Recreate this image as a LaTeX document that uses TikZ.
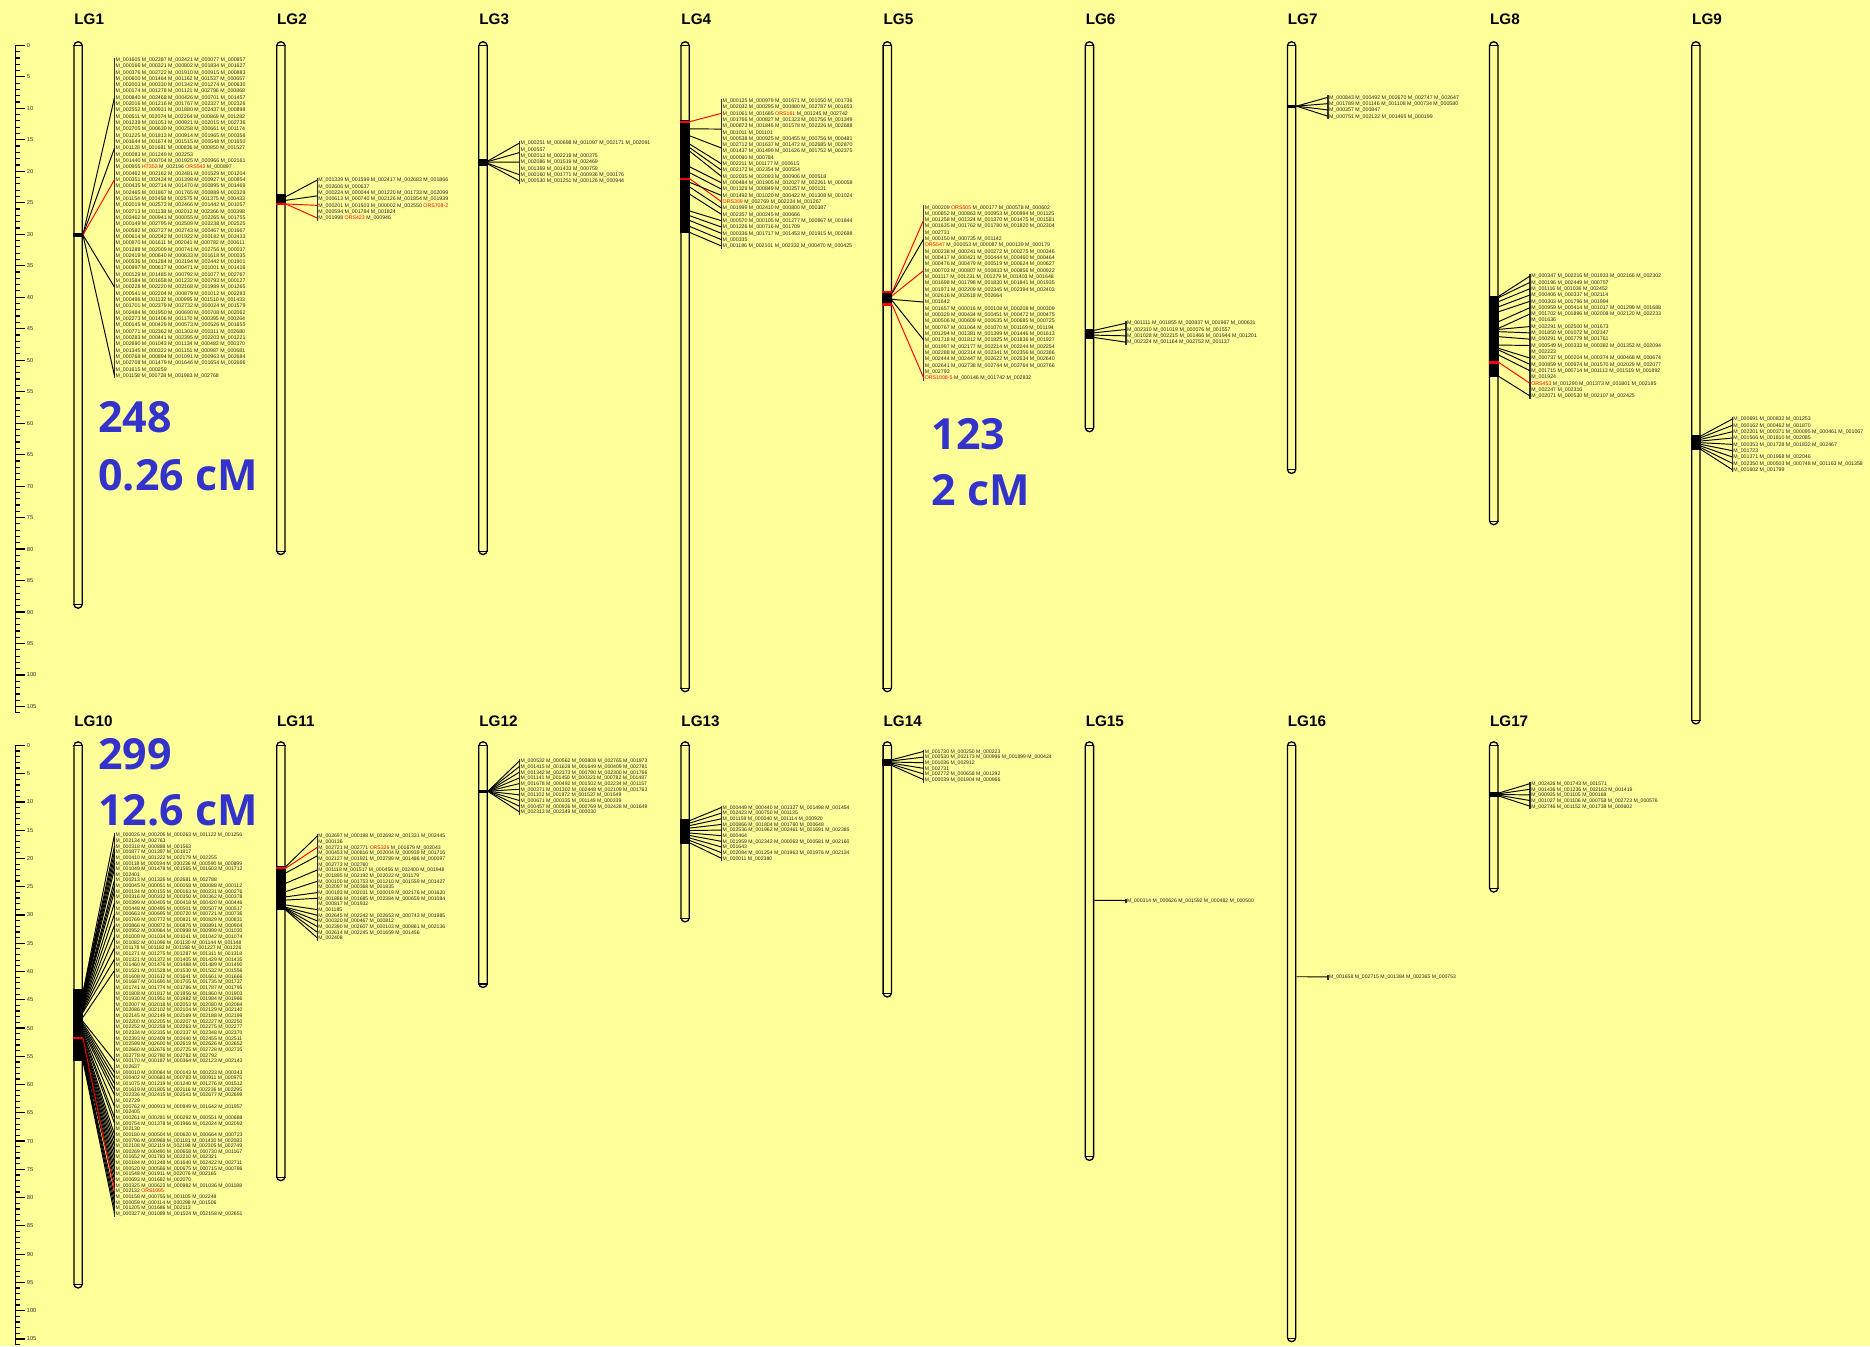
\documentclass[tikz,border=0pt]{standalone}
\usepackage{fontspec}
\setmainfont{Liberation Sans}
\newfontfamily\numfont{Open Sans}
\usetikzlibrary{calc,fit}
\definecolor{bgy}{RGB}{255,255,153}
\definecolor{numblue}{RGB}{51,51,204}
\definecolor{mkred}{RGB}{255,0,0}
\newcommand\R[1]{\textcolor{mkred}{#1}}
\newcommand\LS{5.3}
\newcommand\OFF{1.6}
\tikzset{
  bar/.style={draw=black, line width=0.55pt, rounded corners=1.75pt, inner sep=0pt},
  capln/.style={line width=0.45pt},
  conn/.style={line width=0.4pt, black},
  rconn/.style={line width=0.4pt, mkred},
  brk/.style={line width=0.6pt, black!80},
  mkT/.style={anchor=north west, inner sep=0pt, outer sep=0pt, align=left, text=black!85, font=\fontsize{2.2pt}{2.65pt}\selectfont},
  mkB/.style={anchor=north west, inner sep=0pt, outer sep=0pt, align=left, text=black!85, font=\fontsize{2.15pt}{2.37pt}\selectfont},
  lglab/.style={anchor=west, inner sep=0pt, font=\fontsize{6.4pt}{7pt}\selectfont\bfseries},
  bignum/.style={anchor=base west, inner sep=0pt, text=numblue, font=\numfont\fontsize{18pt}{20pt}\selectfont\bfseries},
  rlab/.style={anchor=west, inner sep=0pt, xshift=0.5pt, font=\fontsize{2.4pt}{3pt}\selectfont, text=black!80},
}
\newcommand\chrom[4]{%
  \node[bar, fit={(#2-3.5,#3) (#2+3.5,#4)}] (#1) {};
  \draw[capln] ($(#1.north west)+(0,3.5)$) -- ($(#1.north east)+(0,3.5)$);
  \draw[capln] ($(#1.south west)+(0,-3.5)$) -- ($(#1.south east)+(0,-3.5)$);
}
\newcommand\band[3]{\fill (#1.west |- 0,#2) rectangle (#1.east |- 0,#3);}
\newcommand\redm[2]{\draw[mkred, line width=0.9pt] (#1.west |- 0,#2) -- (#1.east |- 0,#2);}
\newcommand\cn[5][conn]{\draw[#1] (#2.east |- 0,#3) -- ($(#4.north west)+(-1,{\OFF+\LS*(#5-1)})$);}
\newcommand\brk[1]{\draw[brk] ($(#1.north west)+(-1,0)$) -- ($(#1.south west)+(-1,0)$);}
\newcommand\ruler[4]{%
  \draw[line width=0.5pt] (13,#2) -- (13,{#2+#3*#4});
  \foreach \i in {0,...,#4}{
    \pgfmathsetmacro\yy{#2+#3*\i}
    \pgfmathtruncatemacro\mm{mod(\i,5)}
    \ifnum\mm=0
      \draw[line width=0.5pt] (13,\yy) -- (21,\yy) node[rlab] (#1\i) {\i};
    \else
      \draw[line width=0.5pt] (13,\yy) -- (17,\yy);
    \fi
  }}
\begin{document}
\catcode`\_=12
\begin{tikzpicture}[x=0.5pt,y=-0.5pt]
\fill[bgy] (0,0) rectangle (1568,1129);
\useasboundingbox (0,0) rectangle (1568,1129);

% rulers
\ruler{rt}{38}{5.28}{106}
\ruler{rb}{625}{4.74}{106}

% labels
\node[lglab] (l1) at (62,16) {LG1};
\node[lglab] (l2) at (232,16) {LG2};
\node[lglab] (l3) at (401.5,16) {LG3};
\node[lglab] (l4) at (571,16) {LG4};
\node[lglab] (l5) at (740.5,16) {LG5};
\node[lglab] (l6) at (910,16) {LG6};
\node[lglab] (l7) at (1079.5,16) {LG7};
\node[lglab] (l8) at (1249,16) {LG8};
\node[lglab] (l9) at (1418.5,16) {LG9};
\node[lglab] (l10) at (62,605) {LG10};
\node[lglab] (l11) at (232,605) {LG11};
\node[lglab] (l12) at (401.5,605) {LG12};
\node[lglab] (l13) at (571,605) {LG13};
\node[lglab] (l14) at (740.5,605) {LG14};
\node[lglab] (l15) at (910,605) {LG15};
\node[lglab] (l16) at (1079.5,605) {LG16};
\node[lglab] (l17) at (1249,605) {LG17};

% chromosomes
\chrom{lg1}{65.5}{35}{510}
\chrom{lg2}{235.5}{35}{465}
\chrom{lg3}{405}{35}{465}
\chrom{lg4}{574.5}{35}{580}
\chrom{lg5}{744}{35}{580}
\chrom{lg6}{913.5}{35}{362}
\chrom{lg7}{1083}{35}{397}
\chrom{lg8}{1252.5}{35}{440}
\chrom{lg9}{1422}{35}{607}
\chrom{lg10}{65.5}{622}{1080}
\chrom{lg11}{235.5}{622}{990}
\chrom{lg12}{405}{622}{828}
\chrom{lg13}{574.5}{622}{773}
\chrom{lg14}{744}{622}{836}
\chrom{lg15}{913.5}{622}{973}
\chrom{lg16}{1083}{622}{1125}
\chrom{lg17}{1252.5}{622}{748}

% bands
\band{lg1}{195.5}{199}
\band{lg2}{163}{170}\redm{lg2}{171}
\band{lg3}{133}{139}
\band{lg4}{101}{195.5}\redm{lg4}{102}\redm{lg4}{150}
\band{lg5}{244.6}{255.7}\redm{lg5}{245}\redm{lg5}{255.3}
\band{lg6}{276}{284}
\band{lg7}{88}{90.5}
\band{lg8}{248}{316}\redm{lg8}{304}
\band{lg9}{365}{377}
\band{lg10}{829}{890}\redm{lg10}{870.5}
\band{lg11}{726}{763}\redm{lg11}{728}
\band{lg12}{662}{665}
\band{lg13}{687}{708}
\band{lg14}{636}{642}
\band{lg17}{664}{668}

% big numbers
\node[bignum] (n1) at (82,363) {248};
\node[bignum] (c1) at (82,411) {0.26 cM};
\node[bignum] (n5) at (781,377) {123};
\node[bignum] (c5) at (781,424) {2 cM};
\node[bignum] (n10) at (82,645) {299};
\node[bignum] (c10) at (82,692) {12.6 cM};

% ---------- top row text
\node[mkT] (t1) at (97,48.4) {M_001605 M_002387 M_002421 M_000077 M_000857\\
M_000166 M_000321 M_000802 M_001834 M_001627\\
M_000376 M_002722 M_001910 M_000915 M_000883\\
M_000600 M_001464 M_001162 M_001537 M_000657\\
M_002003 M_000330 M_001342 M_001274 M_000630\\
M_000174 M_001278 M_001121 M_002796 M_000868\\
M_000840 M_002468 M_000426 M_000701 M_001457\\
M_002016 M_001216 M_001767 M_002327 M_002326\\
M_002552 M_000931 M_001880 M_002437 M_000898\\
M_000511 M_002074 M_002264 M_000869 M_001282\\
M_001239 M_001051 M_000921 M_002015 M_002736\\
M_002705 M_000639 M_000258 M_000661 M_001174\\
M_001225 M_001813 M_000914 M_001965 M_000356\\
M_001644 M_001674 M_001515 M_000548 M_001650\\
M_001128 M_001681 M_000836 M_000850 M_001527\\
M_000083 M_001249 M_002253\\
M_001440 M_000704 M_001925 M_000966 M_002161\\
M_000955 \R{HT353} M_002196 \R{ORS543} M_000897\\
M_000462 M_002162 M_002481 M_001529 M_001204\\
M_000351 M_002434 M_001398 M_000927 M_000854\\
M_000435 M_002714 M_001470 M_000895 M_001469\\
M_002465 M_001867 M_001765 M_000889 M_002329\\
M_001154 M_000458 M_002575 M_001375 M_000433\\
M_002019 M_002573 M_002466 M_001442 M_001057\\
M_002713 M_001138 M_002012 M_002366 M_000398\\
M_002462 M_000941 M_000055 M_002265 M_001755\\
M_000149 M_002795 M_002509 M_002238 M_002525\\
M_000582 M_002727 M_002743 M_000467 M_001667\\
M_000614 M_002042 M_001922 M_000182 M_002433\\
M_000970 M_001611 M_002041 M_000782 M_000611\\
M_001288 M_002009 M_000741 M_002756 M_000037\\
M_002419 M_000640 M_000633 M_001618 M_000035\\
M_000536 M_001284 M_002194 M_002442 M_001901\\
M_000997 M_000617 M_000471 M_001001 M_001416\\
M_000129 M_001485 M_000792 M_001077 M_002767\\
M_001584 M_001658 M_001232 M_000793 M_000127\\
M_000228 M_002220 M_002168 M_001989 M_001265\\
M_000541 M_002204 M_000879 M_001012 M_002283\\
M_000496 M_001132 M_000995 M_001510 M_001433\\
M_001701 M_002379 M_002732 M_000024 M_001579\\
M_002484 M_001950 M_000690 M_000708 M_002062\\
M_002273 M_001406 M_001170 M_000395 M_000264\\
M_000145 M_000429 M_000573 M_000526 M_001655\\
M_000771 M_002362 M_001303 M_000311 M_002680\\
M_000283 M_000441 M_002395 M_002203 M_001221\\
M_002690 M_001043 M_001134 M_000483 M_000370\\
M_001345 M_000322 M_001151 M_000987 M_000681\\
M_000768 M_000894 M_001091 M_000963 M_002684\\
M_002708 M_001479 M_001646 M_001654 M_002666\\
M_001615 M_000259\\
M_001158 M_000728 M_001983 M_002768};
\brk{t1}
\cn{lg1}{197}{t1}{7}
\cn{lg1}{197}{t1}{15}
\cn[rconn]{lg1}{197}{t1}{20}
\cn{lg1}{197}{t1}{37}
\cn{lg1}{197}{t1}{51}

\node[mkT] (t2) at (267,149.4) {M_001339 M_001599 M_002417 M_002683 M_001866\\
M_002606 M_000637\\
M_000224 M_000044 M_001220 M_001733 M_002099\\
M_000613 M_000740 M_002126 M_001854 M_001939\\
M_000201 M_001503 M_000002 M_002550 \R{ORS708-2}\\
M_000594 M_001784 M_001824\\
M_001998 \R{ORS423} M_000946};
\brk{t2}
\cn{lg2}{165}{t2}{1}
\cn{lg2}{168}{t2}{3.5}
\cn[rconn]{lg2}{171}{t2}{5}
\cn[rconn]{lg2}{171}{t2}{7}

\node[mkT] (t3) at (436.5,118.4) {M_000251 M_000698 M_001097 M_002171 M_002091\\
M_000557\\
M_002013 M_002219 M_000375\\
M_002086 M_001519 M_002469\\
M_001369 M_001433 M_000759\\
M_000160 M_001771 M_000936 M_000176\\
M_000530 M_001251 M_000126 M_000944};
\brk{t3}
\cn{lg3}{135}{t3}{1}
\cn{lg3}{135.5}{t3}{2.5}
\cn{lg3}{136}{t3}{4}
\cn{lg3}{137}{t3}{6}
\cn{lg3}{137.5}{t3}{7}

\node[mkT] (t4) at (606,82.8) {M_000125 M_000979 M_001671 M_001050 M_001736\\
M_002032 M_000295 M_000880 M_002787 M_001653\\
M_001061 M_001685 \R{ORS161} M_001245 M_002742\\
M_001766 M_000827 M_001323 M_001756 M_001349\\
M_000873 M_001846 M_001578 M_002226 M_002688\\
M_001011 M_001101\\
M_000538 M_000925 M_000455 M_000756 M_000481\\
M_002712 M_001637 M_001472 M_002685 M_002870\\
M_001437 M_001499 M_001626 M_001752 M_002375\\
M_000090 M_000784\\
M_002211 M_001177 M_000615\\
M_002172 M_002354 M_000554\\
M_002035 M_002093 M_000906 M_000518\\
M_000484 M_001905 M_002027 M_002261 M_000058\\
M_001329 M_000849 M_000257 M_000131\\
M_001492 M_001020 M_000422 M_001308 M_001024\\
\R{ORS309} M_002769 M_002224 M_001267\\
M_001999 M_002410 M_000800 M_000387\\
M_002357 M_000245 M_000666\\
M_000570 M_000105 M_001277 M_000867 M_001844\\
M_001226 M_000716 M_001709\\
M_000336 M_001717 M_001453 M_001915 M_002698\\
M_000335\\
M_001186 M_002101 M_002332 M_000470 M_000425};
\brk{t4}
\cn[rconn]{lg4}{102}{t4}{3}
\cn{lg4}{108}{t4}{5.5}
\cn{lg4}{114}{t4}{8.5}
\cn{lg4}{121}{t4}{11}
\cn{lg4}{124}{t4}{12}
\cn{lg4}{127}{t4}{13}
\cn{lg4}{140}{t4}{14}
\cn{lg4}{145}{t4}{15}
\cn[rconn]{lg4}{150}{t4}{17}
\cn{lg4}{153}{t4}{16}
\cn{lg4}{157}{t4}{18}
\cn{lg4}{163}{t4}{19}
\cn{lg4}{177}{t4}{20}
\cn{lg4}{181}{t4}{21}
\cn{lg4}{185}{t4}{22}
\cn{lg4}{190}{t4}{23}
\cn{lg4}{195}{t4}{24}

\node[mkT] (t5) at (775.5,172.2) {M_000209 \R{ORS505} M_000177 M_000578 M_000602\\
M_000852 M_000863 M_000953 M_000994 M_001125\\
M_001258 M_001324 M_001370 M_001475 M_001581\\
M_001635 M_001762 M_001780 M_001820 M_002304\\
M_002731\\
M_000150 M_000735 M_001142\\
\R{ORS547} M_000053 M_000087 M_000139 M_000179\\
M_000238 M_000241 M_000272 M_000275 M_000346\\
M_000417 M_000421 M_000444 M_000460 M_000464\\
M_000476 M_000479 M_000519 M_000624 M_000627\\
M_000703 M_000807 M_000833 M_000856 M_000922\\
M_001117 M_001231 M_001279 M_001403 M_001648\\
M_001698 M_001798 M_001830 M_001841 M_001935\\
M_001971 M_002209 M_002345 M_002394 M_002403\\
M_002616 M_002618 M_002664\\
M_001642\\
M_001657 M_000016 M_000108 M_000208 M_000309\\
M_000329 M_000434 M_000451 M_000472 M_000475\\
M_000506 M_000609 M_000635 M_000685 M_000725\\
M_000767 M_001064 M_001070 M_001169 M_001194\\
M_001294 M_001381 M_001399 M_001446 M_001613\\
M_001718 M_001812 M_001825 M_001836 M_001927\\
M_001997 M_002177 M_002214 M_002244 M_002254\\
M_002288 M_002314 M_002341 M_002356 M_002386\\
M_002444 M_002447 M_002622 M_002634 M_002640\\
M_002641 M_002738 M_002744 M_002764 M_002766\\
M_002793\\
\R{ORS1008-5} M_000146 M_001742 M_002832};
\brk{t5}
\cn[rconn]{lg5}{245}{t5}{3}
\cn{lg5}{246}{t5}{6}
\cn[rconn]{lg5}{248}{t5}{11}
\cn{lg5}{251}{t5}{16}
\cn{lg5}{252}{t5}{22}
\cn[rconn]{lg5}{255.5}{t5}{28}

\node[mkT] (t6) at (945,269.4) {M_001111 M_001855 M_000837 M_001967 M_000631\\
M_002310 M_001019 M_000076 M_001557\\
M_001028 M_002215 M_001466 M_001944 M_001201\\
M_002324 M_001164 M_002752 M_001137};
\brk{t6}
\cn{lg6}{277}{t6}{1}
\cn{lg6}{279}{t6}{2}
\cn{lg6}{281}{t6}{3}
\cn{lg6}{283}{t6}{4}

\node[mkT] (t7) at (1114.5,80) {M_000843 M_000492 M_002670 M_002747 M_002647\\
M_001789 M_001146 M_001108 M_000734 M_000580\\
M_000357 M_000847\\
M_000751 M_002122 M_001465 M_000199};
\brk{t7}
\cn{lg7}{89}{t7}{1}
\cn{lg7}{89}{t7}{2}
\cn{lg7}{89}{t7}{3}
\cn{lg7}{89}{t7}{4}

\node[mkT] (t8) at (1284,229.8) {M_000347 M_002216 M_001933 M_002166 M_002302\\
M_000196 M_002449 M_000757\\
M_001116 M_001036 M_002452\\
M_000406 M_000337 M_002114\\
M_000303 M_001796 M_001994\\
M_000959 M_000414 M_001017 M_001299 M_001688\\
M_001702 M_001896 M_002008 M_002120 M_002233\\
M_001636\\
M_002291 M_002500 M_001673\\
M_001850 M_001072 M_002347\\
M_000291 M_000779 M_001761\\
M_000549 M_000333 M_000382 M_001352 M_002094\\
M_002223\\
M_000737 M_000204 M_000374 M_000468 M_000674\\
M_000859 M_000974 M_001570 M_002029 M_002077\\
M_001715 M_000714 M_001113 M_001519 M_001892\\
M_001924\\
\R{ORS453} M_001290 M_001373 M_001801 M_002185\\
M_002247 M_002316\\
M_002071 M_000530 M_002107 M_002425};
\brk{t8}
\cn{lg8}{248.5}{t8}{1}
\cn{lg8}{249.5}{t8}{2}
\cn{lg8}{252.9}{t8}{3}
\cn{lg8}{257.2}{t8}{4}
\cn{lg8}{261.4}{t8}{5}
\cn{lg8}{269.7}{t8}{6}
\cn{lg8}{275.3}{t8}{7}
\cn{lg8}{276.2}{t8}{9}
\cn{lg8}{278.1}{t8}{10}
\cn{lg8}{282.3}{t8}{11}
\cn{lg8}{289.3}{t8}{12}
\cn{lg8}{292.1}{t8}{14}
\cn{lg8}{293.5}{t8}{15}
\cn{lg8}{297.7}{t8}{16}
\cn[rconn]{lg8}{303.8}{t8}{18}
\cn{lg8}{315.5}{t8}{20}

\node[mkT] (t9) at (1453.5,349.8) {M_000691 M_000832 M_001253\\
M_000162 M_000462 M_001870\\
M_002201 M_000371 M_000095 M_000461 M_001067\\
M_001566 M_001810 M_002085\\
M_000353 M_001728 M_001832 M_002467\\
M_001723\\
M_001371 M_001968 M_002046\\
M_002350 M_000503 M_000748 M_001163 M_001358\\
M_001602 M_001799};
\brk{t9}
\foreach \k in {1,...,9}{\pgfmathsetmacro\by{365.6+(\k-1)*1.4}\cn{lg9}{\by}{t9}{\k}}

% ---------- bottom row text
\renewcommand\LS{4.74}
\renewcommand\OFF{1.45}

\node[mkB] (t10) at (97,698.6) {M_000026 M_000206 M_000263 M_001122 M_001256\\
M_002134 M_002763\\
M_000318 M_000888 M_001563\\
M_000877 M_001397 M_001917\\
M_000410 M_001222 M_002179 M_002255\\
M_000118 M_000194 M_000236 M_000590 M_000899\\
M_001049 M_001478 M_001565 M_001603 M_001712\\
M_002401\\
M_000213 M_001326 M_002681 M_002788\\
M_000045 M_000051 M_000058 M_000088 M_000112\\
M_000134 M_000155 M_000163 M_000231 M_000276\\
M_000316 M_000332 M_000350 M_000362 M_000378\\
M_000399 M_000405 M_000418 M_000420 M_000446\\
M_000448 M_000495 M_000501 M_000507 M_000517\\
M_000663 M_000695 M_000720 M_000721 M_000736\\
M_000769 M_000772 M_000821 M_000829 M_000831\\
M_000866 M_000872 M_000876 M_000891 M_000904\\
M_000952 M_000964 M_000998 M_000999 M_001030\\
M_001009 M_001034 M_001041 M_001042 M_001074\\
M_001082 M_001096 M_001130 M_001144 M_001148\\
M_001178 M_001182 M_001198 M_001227 M_001226\\
M_001271 M_001275 M_001287 M_001311 M_001318\\
M_001321 M_001372 M_001405 M_001429 M_001435\\
M_001460 M_001476 M_001488 M_001489 M_001490\\
M_001521 M_001528 M_001530 M_001532 M_001556\\
M_001608 M_001612 M_001641 M_001661 M_001666\\
M_001687 M_001690 M_001705 M_001735 M_001737\\
M_001741 M_001774 M_001786 M_001787 M_001795\\
M_001808 M_001817 M_001856 M_001860 M_001903\\
M_001930 M_001951 M_001982 M_001984 M_001986\\
M_002007 M_002018 M_002053 M_002080 M_002084\\
M_002086 M_002102 M_002104 M_002129 M_002140\\
M_002145 M_002149 M_002169 M_002188 M_002199\\
M_002200 M_002205 M_002207 M_002227 M_002250\\
M_002252 M_002258 M_002263 M_002275 M_002277\\
M_002334 M_002335 M_002337 M_002348 M_002370\\
M_002393 M_002409 M_002440 M_002455 M_002511\\
M_002599 M_002600 M_002619 M_002626 M_002652\\
M_002660 M_002676 M_002725 M_002728 M_002735\\
M_002778 M_002780 M_002782 M_002792\\
M_000170 M_000187 M_000364 M_002123 M_002143\\
M_002637\\
M_000010 M_000064 M_000143 M_000233 M_000343\\
M_000402 M_000683 M_000783 M_000911 M_000975\\
M_001075 M_001219 M_001240 M_001276 M_001512\\
M_001619 M_001805 M_002116 M_002236 M_002295\\
M_002336 M_002415 M_002543 M_002677 M_002699\\
M_002729\\
M_000762 M_000913 M_000949 M_001642 M_001957\\
M_002405\\
M_000261 M_000281 M_000292 M_000551 M_000688\\
M_000754 M_001378 M_001966 M_002024 M_002092\\
M_002130\\
M_000180 M_000504 M_000620 M_000664 M_000723\\
M_000796 M_000968 M_001181 M_001430 M_002083\\
M_002108 M_002119 M_002198 M_002305 M_002749\\
M_000269 M_000490 M_000658 M_000730 M_001167\\
M_001652 M_001783 M_002210 M_002321\\
M_000184 M_001248 M_001640 M_002422 M_002711\\
M_000520 M_000566 M_000675 M_000715 M_000786\\
M_001548 M_001911 M_002076 M_002165\\
M_000693 M_001682 M_002070\\
M_000325 M_000623 M_000982 M_001036 M_001188\\
M_002132 \R{ORS1095}\\
M_000158 M_000755 M_001105 M_002248\\
M_000059 M_000114 M_000298 M_001506\\
M_001205 M_001686 M_002113\\
M_000327 M_001089 M_001524 M_002158 M_002651};
\brk{t10}
\foreach \k [count=\c] in {1,3,4,5,6,7,9,10,11,13,15,17,19,21,23}{\pgfmathsetmacro\by{831+\c*1.2}\cn{lg10}{\by}{t10}{\k}}
\cn{lg10}{853}{t10}{25}
\foreach \k [count=\c] in {41,43,44,45,46,47,49,51,52,54,55,56,57,58,59,60,61,62,63,65,66,67,68}{\pgfmathsetmacro\by{855+\c*1.5}\cn{lg10}{\by}{t10}{\k}}
\cn[rconn]{lg10}{870.5}{t10}{64}

\node[mkB] (t11) at (267,699.6) {M_002697 M_000198 M_002692 M_001331 M_002445\\
M_000136\\
M_002721 M_002771 \R{ORS326} M_001679 M_002043\\
M_000453 M_000816 M_002004 M_000939 M_001716\\
M_002127 M_001921 M_002789 M_001486 M_000097\\
M_002773 M_002760\\
M_001118 M_001517 M_000456 M_002400 M_001948\\
M_001895 M_002192 M_002022 M_001179\\
M_000100 M_001753 M_001210 M_001559 M_001427\\
M_002097 M_000368 M_001835\\
M_000193 M_002031 M_000019 M_002176 M_001620\\
M_001886 M_001685 M_002384 M_000659 M_001084\\
M_000817 M_001932\\
M_001185\\
M_002645 M_002242 M_002653 M_000743 M_001985\\
M_000320 M_000467 M_000812\\
M_002390 M_002607 M_000103 M_000861 M_002136\\
M_002614 M_002245 M_001659 M_001456\\
M_002408};
\brk{t11}
\cn{lg11}{726.7}{t11}{1}
\cn[rconn]{lg11}{728}{t11}{3}
\cn{lg11}{732}{t11}{4.5}
\cn{lg11}{740.6}{t11}{7}
\cn{lg11}{747.6}{t11}{9}
\cn{lg11}{752}{t11}{11}
\cn{lg11}{754.7}{t11}{12}
\cn{lg11}{758.8}{t11}{14}
\cn{lg11}{760.8}{t11}{15}
\cn{lg11}{761.5}{t11}{16}
\cn{lg11}{762}{t11}{17}
\cn{lg11}{762.5}{t11}{18}
\cn{lg11}{763}{t11}{19}

\node[mkB] (t12) at (436.5,636.6) {M_000532 M_000562 M_000808 M_002765 M_001973\\
M_001415 M_001628 M_001649 M_000409 M_002781\\
M_001342 M_002373 M_000780 M_002300 M_001766\\
M_001141 M_001450 M_000323 M_000782 M_001487\\
M_001678 M_000492 M_001502 M_002234 M_001157\\
M_000371 M_001302 M_002448 M_002109 M_001763\\
M_001102 M_001972 M_001537 M_001549\\
M_000671 M_000335 M_001149 M_000339\\
M_000457 M_000926 M_000769 M_002428 M_001649\\
M_002313 M_002349 M_000030};
\brk{t12}
\foreach \k in {1,...,10}{\cn{lg12}{663.5}{t12}{\k}}

\node[mkB] (t13) at (606,675.6) {M_000449 M_000440 M_001327 M_001498 M_001454\\
M_002423 M_000750 M_001135\\
M_001159 M_000040 M_001114 M_000920\\
M_000866 M_001804 M_001760 M_000648\\
M_002536 M_001962 M_002461 M_001691 M_002385\\
M_000464\\
M_001959 M_002342 M_000063 M_000581 M_002160\\
M_001643\\
M_002084 M_001254 M_001963 M_001976 M_002134\\
M_000011 M_002380};
\brk{t13}
\foreach \k in {1,...,10}{\pgfmathsetmacro\by{688+(\k-1)*2.1}\cn{lg13}{\by}{t13}{\k}}

\node[mkB] (t14) at (775.5,628.6) {M_001730 M_000250 M_000223\\
M_000530 M_002173 M_000996 M_001899 M_000424\\
M_001036 M_002912\\
M_002731\\
M_002772 M_000658 M_001292\\
M_000039 M_001904 M_000966};
\brk{t14}
\foreach \k in {1,...,6}{\pgfmathsetmacro\by{637+(\k-1)*1}\cn{lg14}{\by}{t14}{\k}}

\node[mkB] (t15) at (945,753.6) {M_000314 M_000626 M_001592 M_000482 M_000500};
\brk{t15}
\cn{lg15}{755}{t15}{1}

\node[mkB] (t16) at (1114.5,817.6) {M_001658 M_002715 M_001384 M_002365 M_000753};
\brk{t16}
\cn{lg16}{819}{t16}{1}

\node[mkB] (t17) at (1284,655.6) {M_002426 M_001743 M_001571\\
M_001436 M_001236 M_002163 M_001419\\
M_000935 M_001105 M_000168\\
M_001027 M_001106 M_000758 M_002723 M_000576\\
M_002746 M_001152 M_001738 M_000602};
\brk{t17}
\foreach \k in {1,...,5}{\pgfmathsetmacro\by{665+(\k-1)*0.6}\cn{lg17}{\by}{t17}{\k}}
\end{tikzpicture}
\end{document}
